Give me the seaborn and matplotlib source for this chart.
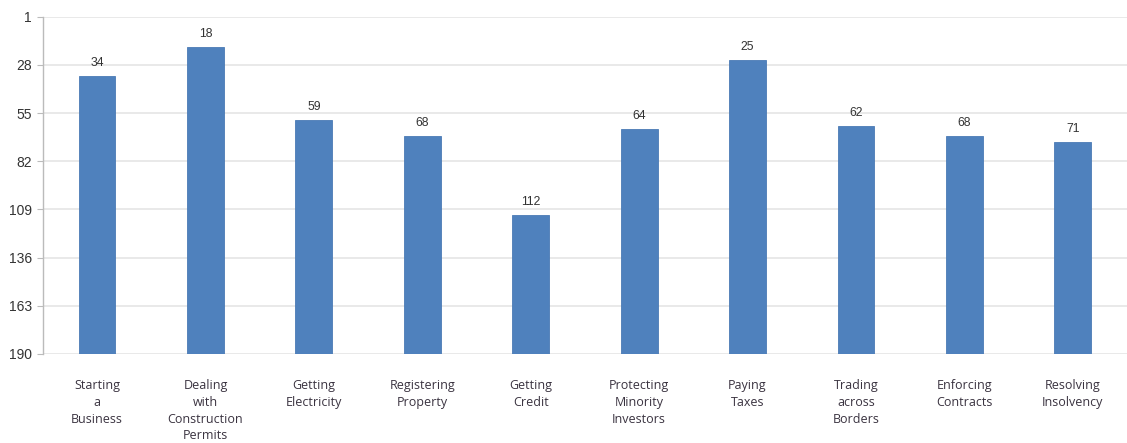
import matplotlib
matplotlib.use("Agg")
import matplotlib.pyplot as plt
import seaborn as sns
import pandas as pd

# Doing Business indicator rankings (1 = best, 190 economies)
categories = [
    "Starting\na\nBusiness",
    "Dealing\nwith\nConstruction\nPermits",
    "Getting\nElectricity",
    "Registering\nProperty",
    "Getting\nCredit",
    "Protecting\nMinority\nInvestors",
    "Paying\nTaxes",
    "Trading\nacross\nBorders",
    "Enforcing\nContracts",
    "Resolving\nInsolvency",
]
ranks = [34, 18, 59, 68, 112, 64, 25, 62, 68, 71]
rank_ticks = [1, 28, 55, 82, 109, 136, 163, 190]

WORST = 190
df = pd.DataFrame({"category": categories, "rank": ranks})
# Bars rise from the worst rank toward rank 1 at the top
df["height"] = WORST - df["rank"]

sns.set_theme(style="white")
plt.rcParams["font.family"] = ["Open Sans", "DejaVu Sans"]

fig = plt.figure(figsize=(11.27, 4.43), dpi=100)
ax = fig.add_axes([0.038, 0.201, 0.962, 0.761])

sns.barplot(data=df, x="category", y="height", color="#4F81BD",
            saturation=1, width=0.34, edgecolor="#4A7AB5", linewidth=0.6,
            ax=ax, zorder=3)

ax.set_xlim(-0.5, len(categories) - 0.5)
ax.set_ylim(0, WORST - 1)
ax.set_yticks([WORST - t for t in rank_ticks])
ax.set_yticklabels([str(t) for t in rank_ticks], fontsize=10, color="#333333",
                   family=["Liberation Sans", "DejaVu Sans"])
ax.grid(axis="y", color="#E3E3E3", linewidth=1.1, zorder=0)
ax.set_axisbelow(True)

for i, r in enumerate(df["rank"]):
    ax.annotate(str(r), (i, WORST - r), xytext=(0, 5), textcoords="offset points",
                ha="center", va="bottom", fontsize=8.8, color="#333333",
                family=["Liberation Sans", "DejaVu Sans"])

ax.set_xlabel("")
ax.set_ylabel("")
ax.tick_params(axis="x", length=0, pad=18, labelsize=9, colors="#3a3340")
ax.tick_params(axis="y", length=4, width=0.8, color="#BBBBBB", pad=4, left=True)
for lbl in ax.get_xticklabels():
    lbl.set_linespacing(1.38)

for side in ["top", "right", "bottom"]:
    ax.spines[side].set_visible(False)
ax.spines["left"].set_color("#BBBBBB")
ax.spines["left"].set_linewidth(1.0)

fig.savefig("out.png", dpi=100)
